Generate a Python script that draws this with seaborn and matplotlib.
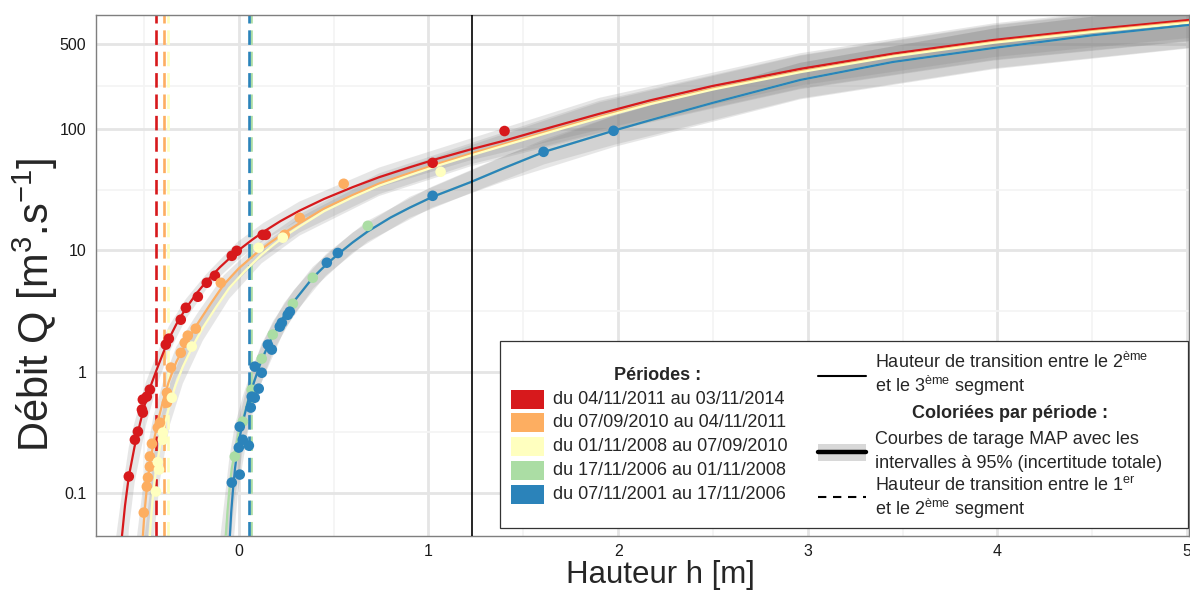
import numpy as np
import pandas as pd
import matplotlib
matplotlib.use("Agg")
import matplotlib.pyplot as plt
import seaborn as sns
from matplotlib.patches import Rectangle
from matplotlib.lines import Line2D
from matplotlib.ticker import FixedLocator, NullFormatter

# -----------------------------
# Data
# -----------------------------

periods = ["du 04/11/2011 au 03/11/2014",
           "du 07/09/2010 au 04/11/2011",
           "du 01/11/2008 au 07/09/2010",
           "du 17/11/2006 au 01/11/2008",
           "du 07/11/2001 au 17/11/2006"]
colors = ["#D7191C", "#FDAE61", "#FFFFBF", "#ABDDA4", "#2B83BA"]

# MAP rating curves (h [m], Q [m3/s])
h_red = [-0.616, -0.60, -0.58, -0.55, -0.52, -0.49, -0.46, -0.43, -0.40, -0.37,
         -0.33, -0.28, -0.22, -0.17, -0.10, -0.01, 0.07, 0.13, 0.22, 0.32,
         0.45, 0.60, 0.74, 0.90, 1.05, 1.22, 1.40, 1.65, 1.90, 2.17,
         2.50, 2.96, 3.45, 3.98, 4.50, 5.01]
q_red = [0.0445, 0.079, 0.137, 0.24, 0.38, 0.58, 0.80, 1.07, 1.41, 1.84,
         2.45, 3.31, 4.47, 5.56, 7.24, 9.77, 12.2, 14.2, 17.4, 21.2,
         26.5, 33.1, 40.0, 48.2, 56.9, 67.6, 80, 103.5, 133, 172,
         226, 312, 417, 540, 661, 789]

h_orange = [-0.506, -0.497, -0.485, -0.47, -0.45, -0.425, -0.40, -0.37, -0.33, -0.28,
            -0.22, -0.15, -0.08, 0.00, 0.10, 0.17, 0.24, 0.32, 0.45, 0.60,
            0.74, 0.90, 1.05, 1.22, 1.40, 1.65, 1.90, 2.17, 2.50, 2.96,
            3.45, 3.98, 4.50, 5.01]
q_orange = [0.0445, 0.07, 0.11, 0.17, 0.26, 0.40, 0.57, 0.82, 1.2, 1.7,
            2.45, 3.6, 5.2, 7.1, 9.7, 11.7, 13.9, 16.7, 22.1, 28.5,
            35.5, 43.2, 51.7, 62.3, 75, 97.5, 126, 163, 215, 298,
            400, 520, 638, 762]

h_yellow = [-0.469, -0.46, -0.45, -0.435, -0.415, -0.39, -0.365, -0.335, -0.295, -0.245,
            -0.19, -0.12, -0.05, 0.03, 0.12, 0.18, 0.24, 0.32, 0.45, 0.60,
            0.74, 0.90, 1.05, 1.22, 1.40, 1.65, 1.90, 2.17, 2.50, 2.96,
            3.45, 3.98, 4.50, 5.01]
q_yellow = [0.0445, 0.07, 0.105, 0.16, 0.245, 0.37, 0.53, 0.76, 1.1, 1.6,
            2.3, 3.4, 4.9, 6.7, 9.2, 11.0, 13.0, 15.7, 21.0, 27.3,
            34.0, 41.5, 49.8, 60.2, 73, 95, 123, 160, 211, 293,
            395, 512, 628, 748]

h_green = [-0.068, -0.060, -0.049, -0.037, -0.021, 0.00, 0.02, 0.05, 0.08, 0.12,
           0.18, 0.24, 0.29, 0.39, 0.46, 0.52, 0.60, 0.68, 0.80, 0.90,
           1.02, 1.22, 1.40, 1.61, 1.98, 2.17, 2.50, 2.96, 3.45, 3.98,
           4.50, 5.01]
q_green = [0.0445, 0.07, 0.11, 0.16, 0.22, 0.32, 0.40, 0.59, 0.83, 1.26,
           2.0, 2.9, 3.78, 5.94, 7.6, 9.2, 11.6, 14.3, 18.6, 22.4,
           27.5, 36.3, 47.7, 64.7, 97, 118, 164, 253, 356, 464,
           590, 718]

h_blue = [-0.047, -0.040, -0.030, -0.020, -0.005, 0.02, 0.05, 0.08, 0.12, 0.18,
          0.24, 0.29, 0.39, 0.46, 0.52, 0.60, 0.68, 0.80, 0.90, 1.02,
          1.22, 1.40, 1.61, 1.98, 2.17, 2.50, 2.96, 3.45, 3.98, 4.50,
          5.01]
q_blue = [0.0445, 0.07, 0.11, 0.16, 0.24, 0.38, 0.58, 0.82, 1.25, 2.0,
          2.9, 3.78, 5.94, 7.6, 9.2, 11.6, 14.3, 18.6, 22.4, 27.5,
          36.3, 47.7, 64.7, 97, 118, 164, 253, 356, 464, 590,
          718]

# 95% intervals (total uncertainty)
hb_red = [-0.65, -0.616, -0.58, -0.55, -0.49, -0.43, -0.37, -0.28, -0.17, -0.01,
          0.13, 0.32, 0.74, 1.22, 1.90, 2.96, 3.98, 5.01]
lo_red = [0.001, 0.001, 0.05, 0.12, 0.36, 0.78, 1.41, 2.7, 4.8, 8.2,
          12.0, 17.8, 33, 55, 98, 228, 390, 560]
hi_red = [0.04, 0.10, 0.24, 0.38, 0.82, 1.42, 2.35, 3.95, 6.4, 11.6,
          16.8, 25.2, 48, 83, 180, 420, 740, 1100]

hb_orange = [-0.54, -0.506, -0.485, -0.45, -0.40, -0.33, -0.22, -0.08, 0.10, 0.32,
             0.74, 1.22, 1.90, 2.96, 3.98, 5.01]
lo_orange = [0.001, 0.001, 0.035, 0.13, 0.38, 0.88, 1.95, 4.3, 8.2, 14,
             29, 51, 93, 215, 370, 530]
hi_orange = [0.04, 0.11, 0.22, 0.43, 0.82, 1.6, 3.0, 6.2, 11.4, 19.8,
             43, 76, 170, 405, 720, 1080]

hb_yellow = [-0.50, -0.469, -0.45, -0.415, -0.365, -0.295, -0.19, -0.05, 0.12, 0.32,
             0.74, 1.22, 1.90, 2.96, 3.98, 5.01]
lo_yellow = [0.001, 0.001, 0.04, 0.13, 0.36, 0.8, 1.8, 4.0, 7.8, 13.2,
             28, 49, 91, 212, 365, 525]
hi_yellow = [0.04, 0.10, 0.20, 0.40, 0.78, 1.5, 2.9, 6.0, 10.9, 18.6,
             41, 73, 165, 400, 710, 1060]

hb_green = [-0.10, -0.068, -0.049, -0.021, 0.02, 0.08, 0.18, 0.29, 0.46, 0.68,
            1.02, 1.40, 1.98, 2.96, 3.98, 5.01]
lo_green = [0.001, 0.001, 0.035, 0.09, 0.22, 0.55, 1.45, 2.95, 6.2, 11.8,
            22.5, 37, 71, 175, 310, 460]
hi_green = [0.04, 0.11, 0.20, 0.36, 0.62, 1.18, 2.6, 4.7, 9.3, 17.5,
            33.5, 60, 128, 350, 670, 1050]

hb_blue = [-0.08, -0.047, -0.03, -0.005, 0.05, 0.12, 0.24, 0.39, 0.60, 0.90,
           1.22, 1.61, 1.98, 2.96, 3.98, 5.01]
lo_blue = [0.001, 0.001, 0.035, 0.10, 0.33, 0.82, 2.2, 4.8, 9.6, 18.5,
           29.5, 51, 74, 178, 315, 465]
hi_blue = [0.04, 0.11, 0.20, 0.38, 0.82, 1.7, 3.7, 7.3, 14, 27.5,
           45, 82, 128, 350, 670, 1050]

# gaugings
hp_red = [-0.580, -0.548, -0.532, -0.511, -0.506, -0.506, -0.485, -0.469, -0.385, -0.369,
          -0.306, -0.279, -0.216, -0.169, -0.126, -0.037, -0.011, 0.126, 0.142, 1.022, 1.401]
qp_red = [0.137, 0.275, 0.321, 0.487, 0.46, 0.589, 0.623, 0.711, 1.67, 1.87,
          2.68, 3.36, 4.14, 5.40, 6.17, 9.0, 9.9, 13.4, 13.4, 52.5, 96]

hp_orange = [-0.501, -0.485, -0.479, -0.469, -0.469, -0.458, -0.427, -0.416, -0.379, -0.379,
             -0.358, -0.306, -0.285, -0.269, -0.227, -0.095, 0.242, 0.321, 0.553]
qp_orange = [0.069, 0.113, 0.134, 0.165, 0.20, 0.255, 0.346, 0.38, 0.556, 0.67,
             1.08, 1.43, 1.73, 1.98, 2.26, 5.4, 13.4, 18.5, 35.3]

hp_yellow = [-0.437, -0.427, -0.421, -0.400, -0.400, -0.353, -0.248, 0.105, 0.232, 1.064]
qp_yellow = [0.103, 0.18, 0.156, 0.275, 0.315, 0.61, 1.61, 10.5, 12.7, 44.3]

hp_green = [-0.021, 0.021, 0.068, 0.121, 0.179, 0.285, 0.390, 0.680]
qp_green = [0.20, 0.388, 0.711, 1.28, 2.02, 3.63, 5.94, 15.9]

hp_blue = [-0.037, 0.005, 0.0, 0.053, 0.021, 0.005, 0.063, 0.068, 0.084, 0.105,
           0.121, 0.084, 0.153, 0.174, 0.216, 0.227, 0.258, 0.269, 0.464, 0.522,
           1.022, 1.607, 1.976]
qp_blue = [0.122, 0.142, 0.237, 0.246, 0.275, 0.352, 0.506, 0.623, 0.61, 0.725,
           0.98, 1.10, 1.67, 1.52, 2.35, 2.53, 2.94, 3.12, 7.9, 9.5,
           28.1, 64.7, 96.4]

# transition heights
h_seg12 = [-0.437, -0.393, -0.372, 0.062, 0.054]
h_seg23 = 1.228

x_ticks = [0, 1, 2, 3, 4, 5]
y_ticks = [0.1, 1, 10, 100, 500]
y_ticklabels = ["0.1", "1", "10", "100", "500"]

# -----------------------------
# Tables
# -----------------------------

curves = pd.concat([
    pd.DataFrame({"h": h, "Q": q, "periode": p})
    for h, q, p in zip([h_red, h_orange, h_yellow, h_green, h_blue],
                       [q_red, q_orange, q_yellow, q_green, q_blue], periods)
])
gaugings = pd.concat([
    pd.DataFrame({"h": h, "Q": q, "periode": p})
    for h, q, p in zip([hp_red, hp_orange, hp_yellow, hp_green, hp_blue],
                       [qp_red, qp_orange, qp_yellow, qp_green, qp_blue], periods)
])
bands = list(zip([hb_red, hb_orange, hb_yellow, hb_green, hb_blue],
                 [lo_red, lo_orange, lo_yellow, lo_green, lo_blue],
                 [hi_red, hi_orange, hi_yellow, hi_green, hi_blue]))

# -----------------------------
# Plot
# -----------------------------

sns.set_theme(style="white")
plt.rcParams["font.family"] = ["Liberation Sans", "DejaVu Sans"]
plt.rcParams["mathtext.fontset"] = "custom"
plt.rcParams["mathtext.rm"] = "Liberation Sans"
plt.rcParams["mathtext.it"] = "Liberation Sans:italic"
plt.rcParams["mathtext.bf"] = "Liberation Sans:bold"

W, H = 1190, 592
fig = plt.figure(figsize=(W / 100, H / 100), dpi=100)
ax = fig.add_axes([96 / W, 1 - 536 / H, (1189 - 96) / W, (536 - 15) / H])
ax.set_yscale("log")

for hb, lo, hi in bands:
    ax.fill_between(hb, lo, hi, color="#7F7F7F", alpha=0.19, lw=0, zorder=1)

for x, c in zip(h_seg12, colors):
    ax.axvline(x, color=c, lw=1.9, dashes=(5.5, 2.6), zorder=2)

sns.lineplot(data=curves, x="h", y="Q", hue="periode", hue_order=periods,
             palette=colors, estimator=None, sort=False, legend=False,
             lw=1.6, ax=ax, zorder=3)

sns.scatterplot(data=gaugings, x="h", y="Q", hue="periode", hue_order=periods,
                palette=colors, s=58, linewidth=0, legend=False, ax=ax, zorder=4)

ax.axvline(h_seg23, color="black", lw=1.2, zorder=5)

ax.set_xlim(-0.753, 5.01)
ax.set_ylim(0.0443, 867)

ax.set_xticks(x_ticks)
ax.set_xticklabels([str(t) for t in x_ticks])
ax.set_yticks(y_ticks)
ax.set_yticklabels(y_ticklabels)
ax.xaxis.set_minor_locator(FixedLocator([-0.5, 0.5, 1.5, 2.5, 3.5, 4.5]))
ax.yaxis.set_minor_locator(FixedLocator([10 ** -0.5, 10 ** 0.5, 10 ** 1.5,
                                         10 ** ((2 + np.log10(500)) / 2)]))
ax.yaxis.set_minor_formatter(NullFormatter())

ax.grid(which="major", color="#E5E5E5", lw=2.0, zorder=0)
ax.grid(which="minor", color="#F4F4F4", lw=1.3, zorder=0)
ax.set_axisbelow(True)

ax.tick_params(which="major", direction="out", length=4, width=0.8,
               color="#333333", labelsize=11.5, labelcolor="#1A1A1A", pad=3)
ax.tick_params(axis="x", which="major", pad=2)
ax.tick_params(which="minor", length=0)
for s in ax.spines.values():
    s.set_color("#7F7F7F")
    s.set_linewidth(1.0)

ax.set_xlabel("Hauteur h [m]", fontsize=22.5)
ax.xaxis.set_label_coords((660 - 96) / 1093, -(560 - 536) / 521)
ax.xaxis.label.set_va("top")
ax.set_ylabel(r"Débit Q [m$^{3}$.s$^{-1}$]", fontsize=30)
ax.yaxis.set_label_coords(-(96 - 60) / 1093, (536 - 305) / 521)

# -----------------------------
# Legend (drawn by hand, pixel positions)
# -----------------------------

def fx(x):
    return x / W

def fy(y):
    return 1 - y / H

fig.add_artist(Rectangle((fx(500), fy(528)), fx(1188) - fx(500), fy(341) - fy(528),
                         facecolor="white", edgecolor="#333333", lw=0.9, zorder=10))

fs = 13
fig.text(fx(658), fy(376), "Périodes :", fontsize=fs, fontweight="bold",
         ha="center", va="center", zorder=11)
for i, (p, c) in enumerate(zip(periods, colors)):
    yc = 399 + i * 23.8
    fig.add_artist(Rectangle((fx(511), fy(yc + 9.5)), fx(33), fy(0) - fy(19),
                             facecolor=c, edgecolor="none", zorder=11))
    fig.text(fx(553), fy(yc), p, fontsize=fs, ha="left", va="center", zorder=11)

xl = [fx(818), fx(866)]
fig.add_artist(Line2D(xl, [fy(376)] * 2, color="black", lw=1.5, zorder=11))
fig.text(fx(875), fy(362), r"Hauteur de transition entre le 2$^{\mathrm{ème}}$",
         fontsize=fs, ha="left", va="center", zorder=11)
fig.text(fx(875), fy(386), r"et le 3$^{\mathrm{ème}}$ segment",
         fontsize=fs, ha="left", va="center", zorder=11)

fig.text(fx(1010), fy(413), "Coloriées par période :", fontsize=fs,
         fontweight="bold", ha="center", va="center", zorder=11)

fig.add_artist(Rectangle((fx(818), fy(461)), fx(48), fy(0) - fy(17),
                         facecolor="#7F7F7F", alpha=0.3, edgecolor="none", zorder=11))
fig.add_artist(Line2D(xl, [fy(452)] * 2, color="black", lw=3.2, zorder=12))
fig.text(fx(875), fy(440), "Courbes de tarage MAP avec les",
         fontsize=fs, ha="left", va="center", zorder=11)
fig.text(fx(875), fy(463), "intervalles à 95% (incertitude totale)",
         fontsize=fs, ha="left", va="center", zorder=11)

fig.add_artist(Line2D(xl, [fy(497)] * 2, color="black", lw=1.5,
                      dashes=(4, 3.2), zorder=11))
fig.text(fx(875), fy(486), r"Hauteur de transition entre le 1$^{\mathrm{er}}$",
         fontsize=fs, ha="left", va="center", zorder=11)
fig.text(fx(875), fy(509), r"et le 2$^{\mathrm{ème}}$ segment",
         fontsize=fs, ha="left", va="center", zorder=11)

fig.savefig("out.png", dpi=100)
